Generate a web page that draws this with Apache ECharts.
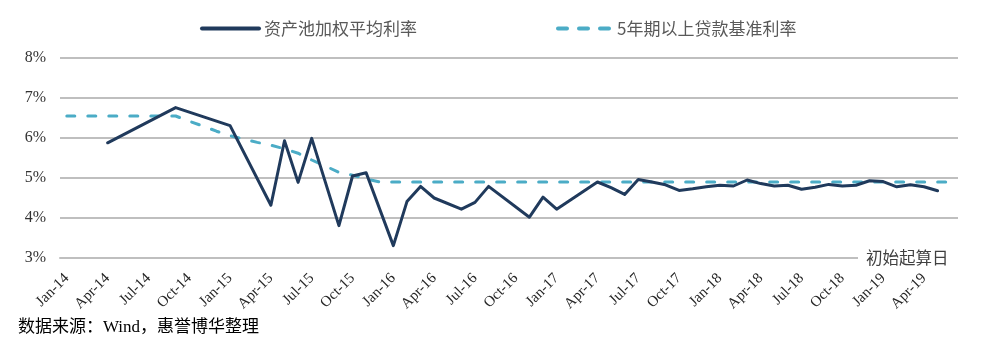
<!DOCTYPE html>
<html>
<head>
<meta charset="utf-8">
<script src="https://cdn.jsdelivr.net/npm/echarts@6/dist/echarts.min.js"></script>
<style>
html,body{margin:0;padding:0;background:#fff;}
#chart{width:992px;height:360px;}
</style>
</head>
<body>
<div id="chart"></div>
<script>
var categories = [
  'Jan-14','Feb-14','Mar-14','Apr-14','May-14','Jun-14','Jul-14','Aug-14','Sep-14','Oct-14','Nov-14','Dec-14',
  'Jan-15','Feb-15','Mar-15','Apr-15','May-15','Jun-15','Jul-15','Aug-15','Sep-15','Oct-15','Nov-15','Dec-15',
  'Jan-16','Feb-16','Mar-16','Apr-16','May-16','Jun-16','Jul-16','Aug-16','Sep-16','Oct-16','Nov-16','Dec-16',
  'Jan-17','Feb-17','Mar-17','Apr-17','May-17','Jun-17','Jul-17','Aug-17','Sep-17','Oct-17','Nov-17','Dec-17',
  'Jan-18','Feb-18','Mar-18','Apr-18','May-18','Jun-18','Jul-18','Aug-18','Sep-18','Oct-18','Nov-18','Dec-18',
  'Jan-19','Feb-19','Mar-19','Apr-19','May-19','Jun-19'
];

var poolRate = [
  null, null, null, 5.88, null, null, null, null, 6.76, null, null, null,
  6.31, null, null, 4.32, 5.93, 4.89, 5.99, null, 3.81, 5.05, 5.13, null,
  3.31, 4.41, 4.79, 4.50, null, 4.22, 4.39, 4.79, null, null, 4.02, 4.52,
  4.22, null, null, 4.90, 4.76, 4.59, 4.96, 4.90, 4.83, 4.69, 4.73, 4.78,
  4.82, 4.80, 4.95, 4.86, 4.80, 4.82, 4.72, 4.77, 4.84, 4.80, 4.82, 4.93,
  4.91, 4.78, 4.83, 4.78, 4.68, null
];

var benchmarkRate = [
  6.55, 6.55, 6.55, 6.55, 6.55, 6.55, 6.55, 6.55, 6.55, 6.42, 6.30, 6.17,
  6.06, 5.97, 5.89, 5.82, 5.73, 5.62, 5.45, 5.30, 5.14, 5.07, 4.98, 4.90,
  4.90, 4.90, 4.90, 4.90, 4.90, 4.90, 4.90, 4.90, 4.90, 4.90, 4.90, 4.90,
  4.90, 4.90, 4.90, 4.90, 4.90, 4.90, 4.90, 4.90, 4.90, 4.90, 4.90, 4.90,
  4.90, 4.90, 4.90, 4.90, 4.90, 4.90, 4.90, 4.90, 4.90, 4.90, 4.90, 4.90,
  4.90, 4.90, 4.90, 4.90, 4.90, 4.90
];

var seriesNames = ['资产池加权平均利率', '5年期以上贷款基准利率'];
var sourceNote = '数据来源：Wind，惠誉博华整理';
var axisNote = '初始起算日';

var chart = echarts.init(document.getElementById('chart'), null, {renderer: 'canvas'});
var serif = "'Liberation Serif', 'Times New Roman', serif";
var cjk = "'Noto Sans CJK SC', sans-serif";

chart.setOption({
  animation: false,
  backgroundColor: '#ffffff',
  grid: {left: 60, right: 34, top: 58, bottom: 102, containLabel: false},
  legend: [
    {
      data: [seriesNames[0]], left: 200, top: 20, padding: 0, itemWidth: 57, itemHeight: 14,
      itemStyle: {opacity: 0},
      lineStyle: {width: 4, cap: 'round'},
      textStyle: {fontFamily: cjk, fontSize: 17, color: '#595959'}
    },
    {
      data: [seriesNames[1]], left: 556, top: 20, padding: 0, itemWidth: 54, itemHeight: 14,
      itemStyle: {opacity: 0},
      lineStyle: {width: 4, type: [9, 12], cap: 'round'},
      textStyle: {fontFamily: cjk, fontSize: 17, color: '#595959'}
    }
  ],
  xAxis: {
    type: 'category',
    data: categories,
    boundaryGap: true,
    axisLine: {show: true, lineStyle: {color: '#bfbfbf', width: 2}},
    axisTick: {show: false},
    axisLabel: {
      interval: 2, rotate: 45, margin: 18,
      fontFamily: serif, fontSize: 15, color: '#262626'
    }
  },
  yAxis: {
    type: 'value', min: 3, max: 8, interval: 1,
    axisLine: {show: false}, axisTick: {show: false},
    axisLabel: {formatter: '{value}%', fontFamily: serif, fontSize: 16, color: '#333333', margin: 14},
    splitLine: {lineStyle: {color: '#bfbfbf', width: 2}}
  },
  series: [
    {
      name: seriesNames[0], type: 'line', data: poolRate, connectNulls: true,
      symbol: 'none', z: 3,
      lineStyle: {color: '#203a5c', width: 3, join: 'round', cap: 'round'},
      itemStyle: {color: '#203a5c'}
    },
    {
      name: seriesNames[1], type: 'line', data: benchmarkRate,
      symbol: 'none', z: 2,
      lineStyle: {color: '#4bacc6', width: 3, type: [8, 13], cap: 'round'},
      itemStyle: {color: '#4bacc6'}
    }
  ],
  graphic: [
    {type: 'rect', z: 100, shape: {x: 858, y: 252, width: 110, height: 12}, style: {fill: '#ffffff'}},
    {type: 'text', z: 101, x: 866, y: 258,
     style: {text: axisNote, fontFamily: cjk, fontSize: 16.5, fill: '#404040', verticalAlign: 'middle', align: 'left'}},
    {type: 'text', z: 101, x: 18, y: 328,
     style: {text: sourceNote, fontFamily: serif + ", 'Noto Sans CJK SC'", fontSize: 17, fill: '#000000', verticalAlign: 'middle', align: 'left'}}
  ]
});
</script>
</body>
</html>
